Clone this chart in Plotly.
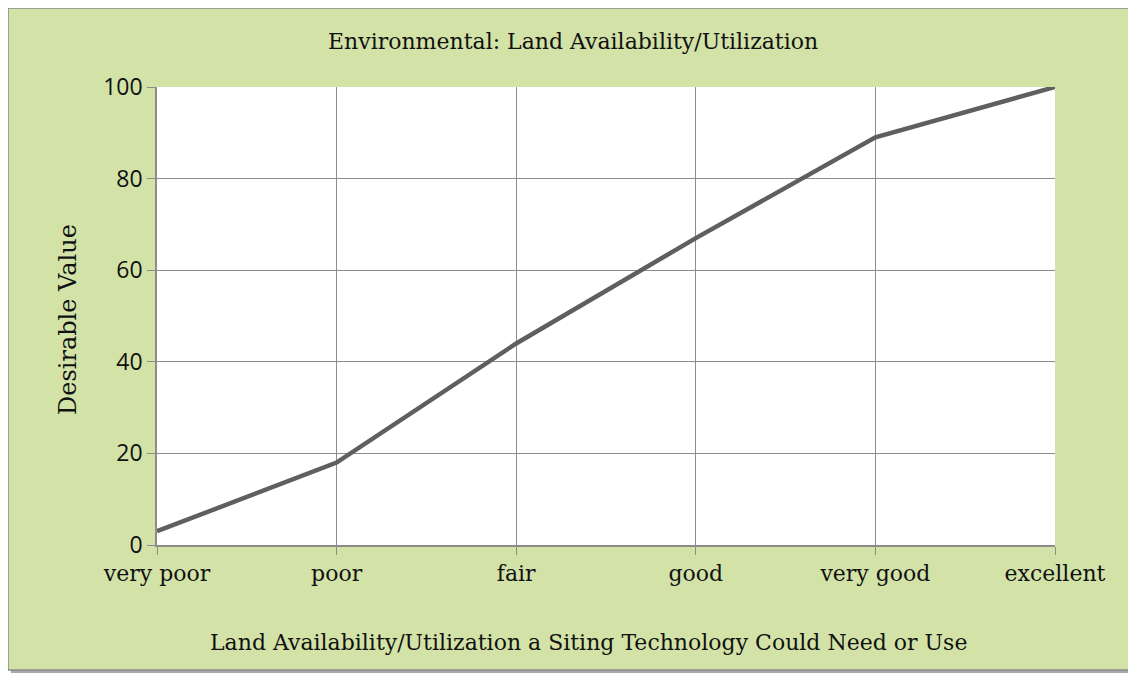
import plotly.graph_objects as go

# ratings along the x axis and their desirable value
ratings = ["very poor", "poor", "fair", "good", "very good", "excellent"]
desirable = [3, 18, 44, 67, 89, 100]
y_ticks = [0, 20, 40, 60, 80, 100]

# the page puts the figure 8px in from the top-left corner
OFF = 8
W, H = 1136 - OFF, 677 - OFF
L, R, T, B = 157 - OFF, 1136 - 1055, 87 - OFF, 677 - 545
pw, ph = W - L - R, H - T - B

def px(x):
    return (x - OFF - L) / pw

def py(y):
    return 1 - (y - OFF - T) / ph

green = "#d3e3a8"
serif = "DejaVu Serif"
ink = "#111111"

fig = go.Figure()
fig.add_trace(go.Scatter(x=ratings, y=desirable, mode="lines",
                         line=dict(color="#5f5f5f", width=4.5), showlegend=False))

# chart frame with a soft shadow
fig.add_shape(type="rect", xref="paper", yref="paper", layer="below",
              x0=px(11), x1=px(1134), y0=py(673), y1=py(11),
              fillcolor="#a8a8a8", line=dict(width=0))
fig.add_shape(type="rect", xref="paper", yref="paper", layer="below",
              x0=px(8), x1=px(1130), y0=py(670), y1=py(8),
              fillcolor=green, line=dict(color="#8a8a8a", width=1.5))
fig.add_shape(type="rect", xref="paper", yref="paper", layer="below",
              x0=0, x1=1, y0=0, y1=1, fillcolor="white", line=dict(width=0))

fig.add_annotation(text="Environmental: Land Availability/Utilization",
                   xref="paper", yref="paper", x=px(573), y=py(41),
                   xanchor="center", yanchor="middle", showarrow=False,
                   font=dict(family=serif, size=22, color=ink))
fig.add_annotation(text="Land Availability/Utilization a Siting Technology Could Need or Use",
                   xref="paper", yref="paper", x=px(588), y=py(642),
                   xanchor="center", yanchor="middle", showarrow=False,
                   font=dict(family=serif, size=22, color=ink))
fig.add_annotation(text="Desirable Value", textangle=-90,
                   xref="paper", yref="paper", x=px(68), y=py(320),
                   xanchor="center", yanchor="middle", showarrow=False,
                   font=dict(family=serif, size=24, color=ink))

fig.update_xaxes(type="category", range=[0, 5], showgrid=True, gridcolor="#8c8c8c",
                 gridwidth=1, ticks="outside", ticklen=8, tickcolor="#8c8c8c",
                 showline=True, linecolor="#8c8c8c", linewidth=1.5,
                 tickfont=dict(family=serif, size=22, color=ink))
fig.update_yaxes(range=[0, 100], tickvals=y_ticks, showgrid=True, gridcolor="#8c8c8c",
                 gridwidth=1, ticks="outside", ticklen=8, tickcolor="#8c8c8c",
                 showline=True, linecolor="#8c8c8c", linewidth=1.5, zeroline=False,
                 tickfont=dict(family="Open Sans", size=23, color=ink))

fig.update_layout(width=W, height=H, margin=dict(l=L, r=R, t=T, b=B),
                  paper_bgcolor="white", plot_bgcolor="white")

fig.write_html("out.html")
